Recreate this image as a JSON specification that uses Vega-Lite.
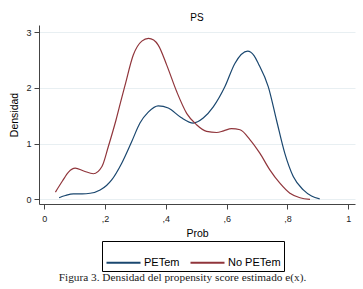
{
  "$schema": "https://vega.github.io/schema/vega-lite/v6.json",
  "autosize": {"type": "pad"},
  "padding": {"left": 9, "top": 13, "right": 5, "bottom": 5},
  "background": "white",
  "title": {
    "text": "Figura 3.  Densidad del propensity score estimado e(x).",
    "orient": "bottom",
    "anchor": "middle",
    "dx": 0,
    "offset": 0,
    "font": "Liberation Serif",
    "fontSize": 11.3,
    "fontWeight": "normal",
    "color": "#222"
  },
  "vconcat": [
    {
      "title": {"text": "PS", "fontSize": 10, "font": "Liberation Sans", "fontWeight": "normal", "color": "#000", "offset": 2},
      "width": 316,
      "height": 179,
      "data": {
        "values": [
          {"grupo": "PETem", "prob": 0.049, "densidad": 0.03},
          {"grupo": "PETem", "prob": 0.07, "densidad": 0.07},
          {"grupo": "PETem", "prob": 0.096, "densidad": 0.1},
          {"grupo": "PETem", "prob": 0.125, "densidad": 0.1},
          {"grupo": "PETem", "prob": 0.151, "densidad": 0.11},
          {"grupo": "PETem", "prob": 0.184, "densidad": 0.17},
          {"grupo": "PETem", "prob": 0.205, "densidad": 0.25},
          {"grupo": "PETem", "prob": 0.222, "densidad": 0.35},
          {"grupo": "PETem", "prob": 0.255, "densidad": 0.65},
          {"grupo": "PETem", "prob": 0.288, "densidad": 1.04},
          {"grupo": "PETem", "prob": 0.315, "densidad": 1.37},
          {"grupo": "PETem", "prob": 0.343, "densidad": 1.57},
          {"grupo": "PETem", "prob": 0.375, "densidad": 1.68},
          {"grupo": "PETem", "prob": 0.408, "densidad": 1.64},
          {"grupo": "PETem", "prob": 0.45, "densidad": 1.47},
          {"grupo": "PETem", "prob": 0.49, "densidad": 1.37},
          {"grupo": "PETem", "prob": 0.523, "densidad": 1.46},
          {"grupo": "PETem", "prob": 0.556, "densidad": 1.66},
          {"grupo": "PETem", "prob": 0.594, "densidad": 2.02},
          {"grupo": "PETem", "prob": 0.627, "densidad": 2.44},
          {"grupo": "PETem", "prob": 0.669, "densidad": 2.66},
          {"grupo": "PETem", "prob": 0.69, "densidad": 2.58},
          {"grupo": "PETem", "prob": 0.704, "densidad": 2.44},
          {"grupo": "PETem", "prob": 0.737, "densidad": 2.02},
          {"grupo": "PETem", "prob": 0.764, "densidad": 1.42},
          {"grupo": "PETem", "prob": 0.791, "densidad": 0.83},
          {"grupo": "PETem", "prob": 0.819, "densidad": 0.41},
          {"grupo": "PETem", "prob": 0.852, "densidad": 0.17},
          {"grupo": "PETem", "prob": 0.879, "densidad": 0.06},
          {"grupo": "PETem", "prob": 0.906, "densidad": 0.01},
          {"grupo": "No PETem", "prob": 0.037, "densidad": 0.13},
          {"grupo": "No PETem", "prob": 0.06, "densidad": 0.33},
          {"grupo": "No PETem", "prob": 0.08, "densidad": 0.49},
          {"grupo": "No PETem", "prob": 0.102, "densidad": 0.56},
          {"grupo": "No PETem", "prob": 0.13, "densidad": 0.51},
          {"grupo": "No PETem", "prob": 0.162, "densidad": 0.46},
          {"grupo": "No PETem", "prob": 0.19, "densidad": 0.59},
          {"grupo": "No PETem", "prob": 0.211, "densidad": 0.95},
          {"grupo": "No PETem", "prob": 0.236, "densidad": 1.42},
          {"grupo": "No PETem", "prob": 0.253, "densidad": 1.78},
          {"grupo": "No PETem", "prob": 0.266, "densidad": 2.05},
          {"grupo": "No PETem", "prob": 0.293, "densidad": 2.59},
          {"grupo": "No PETem", "prob": 0.321, "densidad": 2.84},
          {"grupo": "No PETem", "prob": 0.343, "densidad": 2.89},
          {"grupo": "No PETem", "prob": 0.36, "densidad": 2.86},
          {"grupo": "No PETem", "prob": 0.375, "densidad": 2.77},
          {"grupo": "No PETem", "prob": 0.403, "densidad": 2.41},
          {"grupo": "No PETem", "prob": 0.436, "densidad": 1.93},
          {"grupo": "No PETem", "prob": 0.469, "densidad": 1.54},
          {"grupo": "No PETem", "prob": 0.501, "densidad": 1.34},
          {"grupo": "No PETem", "prob": 0.534, "densidad": 1.22},
          {"grupo": "No PETem", "prob": 0.567, "densidad": 1.2},
          {"grupo": "No PETem", "prob": 0.59, "densidad": 1.23},
          {"grupo": "No PETem", "prob": 0.616, "densidad": 1.27},
          {"grupo": "No PETem", "prob": 0.644, "densidad": 1.25},
          {"grupo": "No PETem", "prob": 0.677, "densidad": 1.07},
          {"grupo": "No PETem", "prob": 0.709, "densidad": 0.83},
          {"grupo": "No PETem", "prob": 0.742, "densidad": 0.53},
          {"grupo": "No PETem", "prob": 0.775, "densidad": 0.29},
          {"grupo": "No PETem", "prob": 0.808, "densidad": 0.11},
          {"grupo": "No PETem", "prob": 0.841, "densidad": 0.03},
          {"grupo": "No PETem", "prob": 0.874, "densidad": 0.0}
        ]
      },
      "mark": {"type": "line", "interpolate": "monotone", "strokeWidth": 1.2},
      "encoding": {
        "x": {
          "field": "prob",
          "type": "quantitative",
          "scale": {"domain": [-0.017, 1.022], "nice": false, "zero": false},
          "axis": {
            "values": [0, 0.2, 0.4, 0.6, 0.8, 1],
            "labelExpr": "datum.value == 0 ? '0' : datum.value == 1 ? '1' : ',' + format(datum.value * 10, 'd')",
            "title": "Prob",
            "grid": false,
            "labelPadding": 5,
            "titlePadding": 5
          }
        },
        "y": {
          "field": "densidad",
          "type": "quantitative",
          "scale": {"domain": [-0.083, 3.13], "nice": false, "zero": false},
          "axis": {
            "values": [0, 1, 2, 3],
            "format": "d",
            "title": "Densidad",
            "grid": true,
            "labelPadding": 3,
            "titlePadding": 6
          }
        },
        "color": {
          "field": "grupo",
          "type": "nominal",
          "scale": {"domain": ["PETem", "No PETem"], "range": ["#1a476f", "#90353b"]},
          "legend": {
            "title": null,
            "orient": "none",
            "direction": "horizontal",
            "legendX": 63,
            "legendY": 216,
            "symbolType": "stroke",
            "symbolSize": 1156,
            "symbolStrokeWidth": 2.2,
            "labelOffset": 2,
            "columnPadding": 6,
            "padding": 3,
            "strokeColor": "#000",
            "fillColor": "#fff",
            "labelFont": "Liberation Sans",
            "labelFontSize": 11,
            "labelColor": "#000"
          }
        }
      }
    }
  ],
  "config": {
    "view": {"stroke": null},
    "axis": {
      "domainColor": "#444",
      "tickColor": "#444",
      "tickSize": 5,
      "labelFont": "Liberation Sans",
      "labelFontSize": 9,
      "labelColor": "#222",
      "titleFont": "Liberation Sans",
      "titleFontSize": 10.5,
      "titleFontWeight": "normal",
      "titleColor": "#000",
      "gridColor": "#e8eff2",
      "gridWidth": 1,
      "labelAngle": 0
    },
    "axisY": {"labelAngle": 0}
  }
}
